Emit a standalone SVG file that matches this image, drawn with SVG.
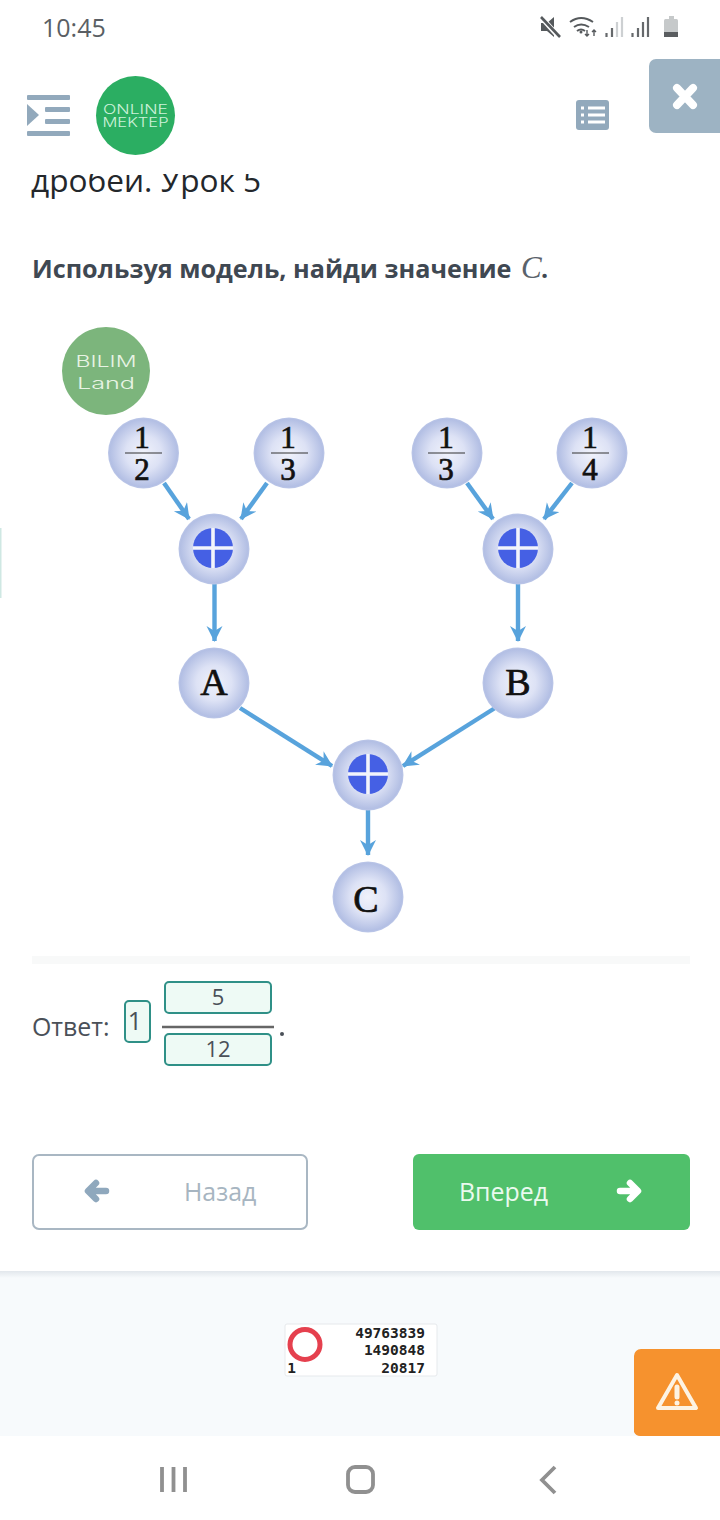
<svg xmlns="http://www.w3.org/2000/svg" width="720" height="1520" viewBox="0 0 720 1520">
<style>
.ui{font-family:"Open Sans","Noto Sans",sans-serif}
.m{font-family:"Liberation Serif","DejaVu Serif",serif;font-weight:400;fill:#111;stroke:#111;stroke-width:.7;text-anchor:middle}
.bar{fill:#92a9bc}
.edge{stroke:#58a3dc;stroke-width:4.400;fill:none;marker-end:url(#ah)}
.node{fill:url(#ng)}
.box{fill:#eefaf5;stroke:#2f9087;stroke-width:2}
.ans{font-family:"Open Sans","Noto Sans",sans-serif;font-size:22px;fill:#4a5058;text-anchor:middle}
.frac{stroke:#333;stroke-width:1.200}
.mono{font-family:"DejaVu Sans Mono","Liberation Mono",monospace;font-weight:700;font-size:14.500px;fill:#222;text-anchor:end}
.nav{fill:none;stroke:#909090;stroke-width:3.800}
.logo{font-family:Inter,"Liberation Sans",sans-serif;font-weight:300;text-anchor:middle}
</style>
<defs>
<radialGradient id="ng" cx="50%" cy="50%" r="50%">
<stop offset="0" stop-color="#f0f2fb"/><stop offset="0.5" stop-color="#dde2f5"/><stop offset="0.95" stop-color="#b3bfe4"/><stop offset="1" stop-color="#bcc7e8"/>
</radialGradient>
<marker id="ah" markerUnits="userSpaceOnUse" markerWidth="18" markerHeight="18" refX="15" refY="8" orient="auto">
<path d="M0 0 L16 8 L0 16 L5 8Z" fill="#58a3dc"/>
</marker>
<clipPath id="titleclip"><rect x="0" y="174" width="720" height="34"/></clipPath>
<g id="plus">
<circle r="20" fill="#4560e4"/>
<path d="M-20 0H20M0 -20V20" stroke="#f2f4fb" stroke-width="3.600"/>
</g>
<linearGradient id="sh" x1="0" y1="0" x2="0" y2="1"><stop offset="0" stop-color="#e2e7ec"/><stop offset="1" stop-color="#f7fafc"/></linearGradient>
</defs>
<rect width="720" height="1520" fill="#fff"/>

<g id="page-footer">
<rect x="0" y="1271" width="720" height="165" fill="#f7fafc"/>
<rect x="0" y="1271" width="720" height="7" fill="url(#sh)"/>
</g>

<g id="status-bar">
<text class="ui" x="42" y="37" font-size="25" fill="#5a5f64">10:45</text>
<path d="M541 23h6l7-6v20l-7-6h-6z" fill="#55595c"/>
<path d="M541 17l18 20" stroke="#fff" stroke-width="5"/>
<path d="M541 17l19 20" stroke="#55595c" stroke-width="2.600"/>
<path d="M570 22q11-8 23 0M574 27q7-5 15 0M577 31q4-3 8 0" fill="none" stroke="#55595c" stroke-width="2"/>
<circle cx="581" cy="32" r="1.500" fill="#55595c"/>
<path d="M587 30v6M585 34l2 2 2-2M594 36v-6M592 32l2-2 2 2" fill="none" stroke="#55595c" stroke-width="1.400"/>
<path d="M606.500 33v4M612 28v9M632.500 33v4M638 28v9M643 22v15M648 17v20" stroke="#66696c" stroke-width="2.200"/>
<path d="M617 22v15M622 17v20" stroke="#cdd0d2" stroke-width="2.200"/>
<rect x="664" y="19" width="14" height="18" rx="1.500" fill="#c6c9ca"/>
<rect x="669" y="16" width="5" height="3" fill="#c6c9ca"/>
<rect x="664" y="32" width="14" height="5" fill="#5a5d60"/>
</g>

<g id="title-fragment" clip-path="url(#titleclip)">
<text class="ui" x="31" y="192" font-size="31.600" fill="#23272b">дробей. Урок 5</text>
</g>

<g id="header">
<rect class="bar" x="27" y="131" width="43" height="5" rx="1"/>
<rect class="bar" x="27" y="95" width="43" height="5" rx="1"/>
<rect class="bar" x="45" y="107" width="25" height="5" rx="1"/>
<rect class="bar" x="45" y="119" width="25" height="5" rx="1"/>
<path class="bar" d="M27 104l12 11-12 11z"/>
<circle cx="135.500" cy="115.500" r="39.500" fill="#2bae62"/>
<text class="logo" x="135.500" y="114" font-size="12.500" fill="#cdf2da" textLength="65" lengthAdjust="spacingAndGlyphs">ONLINE</text>
<text class="logo" x="135.500" y="127" font-size="12.500" fill="#cdf2da" textLength="66" lengthAdjust="spacingAndGlyphs">MEKTEP</text>
<rect class="bar" x="576" y="100" width="33" height="30" rx="3"/>
<path d="M588 108h17M588 115h17M588 122h17M581 108h3M581 115h3M581 122h3" stroke="#fff" stroke-width="3"/>
<path d="M649 66a7 7 0 0 1 7-7h64v74h-64a7 7 0 0 1-7-7z" fill="#9db3c3"/>
<path d="M677 88l16 17M693 88l-16 17" stroke="#fff" stroke-width="8" stroke-linecap="round"/>
</g>

<g id="question">
<text class="ui" x="32" y="278" font-size="25.200" font-weight="700" fill="#3f4852">Используя модель, найди значение</text>
<text x="521" y="278" font-family="'Liberation Serif',serif" font-style="italic" font-size="31" fill="#5a626b">C</text>
<text class="ui" x="541" y="278" font-size="25" font-weight="700" fill="#3f4852">.</text>
</g>

<g id="logo-bilimland">
<circle cx="106" cy="371" r="44" fill="#7cb57c"/>
<text class="logo" x="106" y="367" font-size="16" fill="#e8f3e4" textLength="61" lengthAdjust="spacingAndGlyphs">BILIM</text>
<text class="logo" x="106" y="389" font-size="16" fill="#e8f3e4" textLength="58" lengthAdjust="spacingAndGlyphs">Land</text>
</g>

<g id="connectors">
<path class="edge" d="M164 483L189 519"/>
<path class="edge" d="M267 483L241 519"/>
<path class="edge" d="M467 483L493 519"/>
<path class="edge" d="M572 483L544 519"/>
<path class="edge" d="M214.500 584V641"/>
<path class="edge" d="M518 584V641"/>
<path class="edge" d="M240 708L332 766"/>
<path class="edge" d="M495 708L403 766"/>
<path class="edge" d="M368 810V855"/>
</g>

<g id="node-half">
<circle class="node" cx="143.500" cy="453" r="35.500"/>
<text class="m" x="142" y="448" font-size="31">1</text><path class="frac" d="M125 453H162"/><text class="m" x="142" y="480" font-size="31">2</text>
</g>
<g id="node-third-a">
<circle class="node" cx="289" cy="453" r="35.500"/>
<text class="m" x="288" y="448" font-size="31">1</text><path class="frac" d="M271 453H308"/><text class="m" x="288" y="480" font-size="31">3</text>
</g>
<g id="node-third-b">
<circle class="node" cx="447" cy="453" r="35.500"/>
<text class="m" x="446" y="448" font-size="31">1</text><path class="frac" d="M428 453H465"/><text class="m" x="446" y="480" font-size="31">3</text>
</g>
<g id="node-quarter">
<circle class="node" cx="592" cy="453" r="35.500"/>
<text class="m" x="590" y="448" font-size="31">1</text><path class="frac" d="M572 453H609"/><text class="m" x="590" y="480" font-size="31">4</text>
</g>
<g id="node-sum-a">
<circle class="node" cx="214" cy="549" r="35.500"/><use href="#plus" x="213" y="548"/>
</g>
<g id="node-sum-b">
<circle class="node" cx="518" cy="549" r="35.500"/><use href="#plus" x="518" y="548"/>
</g>
<g id="node-a">
<circle class="node" cx="214" cy="683" r="35.500"/>
<text class="m" x="214" y="695" font-size="38">A</text>
</g>
<g id="node-b">
<circle class="node" cx="518" cy="683" r="35.500"/>
<text class="m" x="518" y="695" font-size="38">B</text>
</g>
<g id="node-sum-c">
<circle class="node" cx="368" cy="775" r="35.500"/><use href="#plus" x="368" y="774"/>
</g>
<g id="node-c">
<circle class="node" cx="368" cy="897" r="35.500"/>
<text class="m" x="366" y="912" font-size="38">C</text>
</g>

<rect id="divider" x="32" y="956" width="658" height="8" fill="#f8f9f9"/>

<g id="answer">
<text class="ui" x="32" y="1036" font-size="24.900" fill="#4a5058">Ответ:</text>
<rect class="box" x="125" y="1001" width="25" height="41" rx="4"/>
<text class="ans" x="135" y="1030" style="font-size:25px">1</text>
<rect class="box" x="165" y="982" width="106" height="31" rx="4"/>
<text class="ans" x="218" y="1005">5</text>
<path d="M162 1027H274" stroke="#666" stroke-width="2.400"/>
<rect class="box" x="165" y="1034" width="106" height="31" rx="4"/>
<text class="ans" x="218" y="1057">12</text>
<circle cx="282" cy="1034" r="2" fill="#4a5058"/>
</g>

<g id="btn-back">
<rect x="33" y="1155" width="274" height="74" rx="6" fill="#fff" stroke="#a9b7c3" stroke-width="2"/>
<path d="M106 1191H90M96 1183l-8 8 8 8" fill="none" stroke="#8fa8bd" stroke-width="6.500" stroke-linecap="round" stroke-linejoin="round"/>
<text class="ui" x="184" y="1201" font-size="24.900" fill="#a7b5c1">Назад</text>
</g>
<g id="btn-forward">
<rect x="413" y="1154" width="277" height="76" rx="6" fill="#50c06b"/>
<path d="M620 1191H636M630 1183l8 8-8 8" fill="none" stroke="#fff" stroke-width="6.500" stroke-linecap="round" stroke-linejoin="round"/>
<text class="ui" x="459" y="1201" font-size="24.900" fill="#eafaef">Вперед</text>
</g>

<g id="counter">
<rect x="285" y="1324" width="152" height="52" rx="2" fill="#fff" stroke="#e6e9ec"/>
<circle cx="305" cy="1344.500" r="15" fill="none" stroke="#e5404e" stroke-width="5"/>
<text class="mono" x="425" y="1338">49763839</text>
<text class="mono" x="425" y="1355">1490848</text>
<text class="mono" x="425" y="1373">20817</text>
<text class="mono" x="296" y="1373">1</text>
</g>

<g id="report-btn">
<path d="M634 1356a7 7 0 0 1 7-7h79v87h-79a7 7 0 0 1-7-4z" fill="#f6922e"/>
<path d="M677 1375l19 33h-38z" fill="none" stroke="#fdf3e3" stroke-width="4" stroke-linejoin="round"/>
<path d="M677 1387v10" stroke="#fdf3e3" stroke-width="5" stroke-linecap="round"/>
<circle cx="677" cy="1403" r="2.500" fill="#fdf3e3"/>
</g>

<g id="nav-bar">
<path class="nav" d="M162 1467V1492M173.500 1467V1492M185 1467V1492"/>
<rect x="348" y="1467" width="25" height="25" rx="7" class="nav"/>
<path class="nav" d="M555 1467L542 1480L555 1493"/>
</g>

<rect id="side-tab" x="0" y="528" width="1.500" height="70" fill="#cfe8e3"/>
</svg>
